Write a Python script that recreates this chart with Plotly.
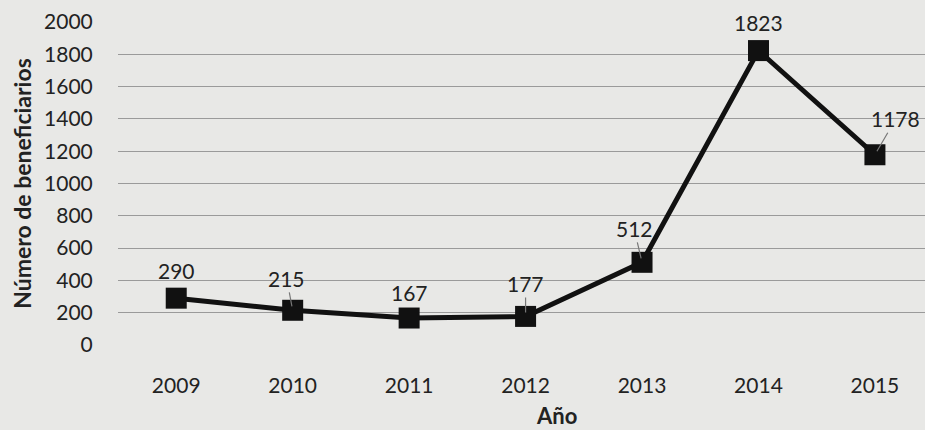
import plotly.graph_objects as go

years = ["2009", "2010", "2011", "2012", "2013", "2014", "2015"]
beneficiarios = [290, 215, 167, 177, 512, 1823, 1178]
y_ticks = [0, 200, 400, 600, 800, 1000, 1200, 1400, 1600, 1800, 2000]

# label offsets (px) relative to each point, and whether a leader line shows
label_dx = [0, -6, 0, 0, -8, 0, 21]
label_dy = [28, 32, 26, 33, 34, 28, 36]
leader = [False, True, False, True, True, False, True]

FONT = "Lato, 'Open Sans', sans-serif"
BG = "#e8e8e6"

fig = go.Figure()
fig.add_trace(go.Scatter(
    x=years, y=beneficiarios,
    mode="lines+markers",
    line=dict(color="#111111", width=5),
    marker=dict(symbol="square", size=21, color="#111111"),
    showlegend=False,
))

# category axis: annotations use the category index
for i, (v, dx, dy, ld) in enumerate(zip(beneficiarios, label_dx, label_dy, leader)):
    if ld:
        fig.add_annotation(
            x=i, y=v, text=str(v), ax=dx, ay=-dy,
            showarrow=True, arrowhead=0, arrowwidth=1.2, arrowcolor="#777777",
            standoff=4,
            font=dict(family=FONT, size=21, color="#222222"),
        )
    else:
        fig.add_annotation(
            x=i, y=v, text=str(v), xshift=dx, yshift=dy,
            showarrow=False,
            font=dict(family=FONT, size=21, color="#222222"),
        )

fig.add_annotation(
    x=(556 - 118) / (925 - 118), y=-(415 - 345) / (345 - 22),
    xref="paper", yref="paper", text="<b>Año</b>", yanchor="middle",
    showarrow=False, font=dict(family=FONT, size=22, color="#222222"),
)

fig.update_layout(
    width=925, height=430,
    margin=dict(l=118, r=0, t=22, b=85),
    paper_bgcolor=BG, plot_bgcolor=BG,
    font=dict(family=FONT, size=21, color="#222222"),
    xaxis=dict(
        type="category", range=[-0.5, 6.43],
        showgrid=False, zeroline=False, showline=False,
        ticks="outside", ticklen=22, tickcolor="rgba(0,0,0,0)",
        tickfont=dict(size=21),
    ),
    yaxis=dict(
        range=[0, 2000], tickvals=y_ticks,
        showgrid=True, gridcolor="#9a9a9a", gridwidth=1,
        zeroline=False, showline=False,
        ticks="outside", ticklen=20, tickcolor="rgba(0,0,0,0)",
        tickfont=dict(size=21),
        title=dict(text="<b>Número de beneficiarios</b>", font=dict(size=23), standoff=6),
    ),
)

fig.write_html(
    "out.html",
    config={"displayModeBar": False},
    post_script="document.body.style.margin='0';",
)
